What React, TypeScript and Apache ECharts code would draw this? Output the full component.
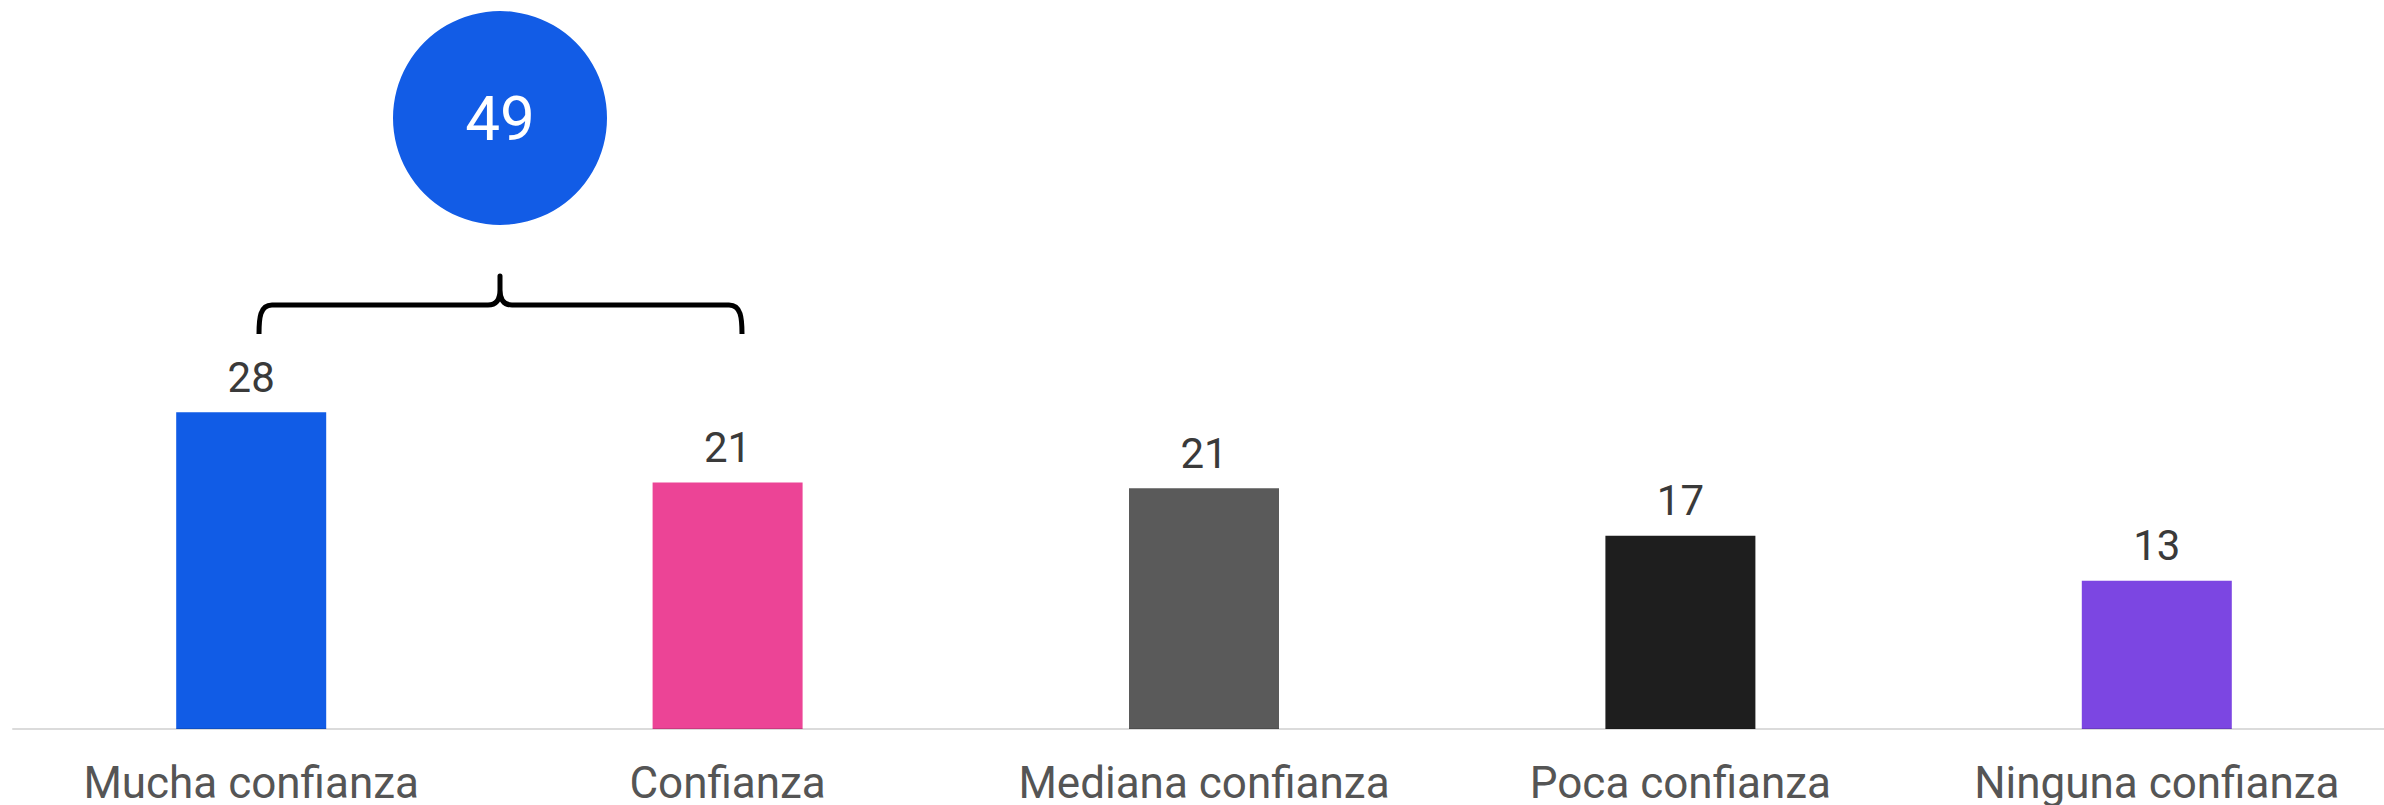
import React, { useEffect, useRef } from "react";
import * as echarts from "echarts";

const categories = ["Mucha confianza", "Confianza", "Mediana confianza", "Poca confianza", "Ninguna confianza"];
const values = [28.0, 21.8, 21.3, 17.1, 13.1];
const valueLabels = ["28", "21", "21", "17", "13"];
const barColors = ["#115ce6", "#ec4496", "#5a5a5a", "#1e1e1e", "#7c46e2"];
const groupedIndexes = [0, 1];

const bracePath =
  "M 259 334 C 259 318 260 305 272 305 L 488 305 C 496 305 500 300 500 290 L 500 276 L 500 290 C 500 300 504 305 512 305 L 729 305 C 741 305 742 318 742 334";

let registered = false;

export default function App() {
  const ref = useRef<HTMLDivElement>(null);
  useEffect(() => {
    if (!ref.current) return;
    if (!registered) {
      echarts.graphic.registerShape("brace", echarts.graphic.extendPath(bracePath, {}) as any);
      registered = true;
    }
    const chart = echarts.init(ref.current, null, { renderer: "svg" });
    const total = groupedIndexes.reduce((s, i) => s + Number(valueLabels[i]), 0);
    chart.setOption({
      animation: false,
      grid: { left: 13, right: 5, top: 50.5, bottom: 72 },
      xAxis: {
        type: "category",
        data: categories,
        z: 5,
        axisLine: { lineStyle: { color: "rgba(0,0,0,0.14)", width: 2 } },
        axisTick: { show: false },
        axisLabel: {
          interval: 0,
          hideOverlap: false,
          margin: 32,
          fontSize: 44,
          color: "#555555",
          fontFamily: "Roboto",
        },
      },
      yAxis: { type: "value", min: 0, max: 60, show: false, splitLine: { show: false } },
      series: [
        {
          type: "bar",
          barWidth: 150,
          data: values.map((v, i) => ({ value: v, itemStyle: { color: barColors[i] } })),
          label: {
            show: true,
            position: "top",
            distance: 14,
            fontSize: 42,
            color: "#3a3a3a",
            fontFamily: "Roboto",
            formatter: (p: any) => valueLabels[p.dataIndex],
          },
        },
      ],
      graphic: [
        {
          type: "brace",
          x: 0,
          y: 0,
          style: { stroke: "#000000", lineWidth: 5, fill: null, lineJoin: "round" },
        },
        {
          type: "circle",
          shape: { cx: 500, cy: 118, r: 107 },
          style: { fill: "#125ce6" },
        },
        {
          type: "text",
          x: 500,
          y: 118,
          style: {
            text: String(total),
            fill: "#ffffff",
            fontSize: 62,
            fontFamily: "Roboto",
            align: "center",
            verticalAlign: "middle",
          },
        },
      ],
    });
    return () => chart.dispose();
  }, []);
  return (
    <div style={{ position: "fixed", left: 0, top: 0, width: 2384, height: 805, overflow: "hidden", background: "#ffffff" }}>
      <div ref={ref} style={{ position: "absolute", left: 0, top: 0, width: 2400, height: 805 }} />
    </div>
  );
}
